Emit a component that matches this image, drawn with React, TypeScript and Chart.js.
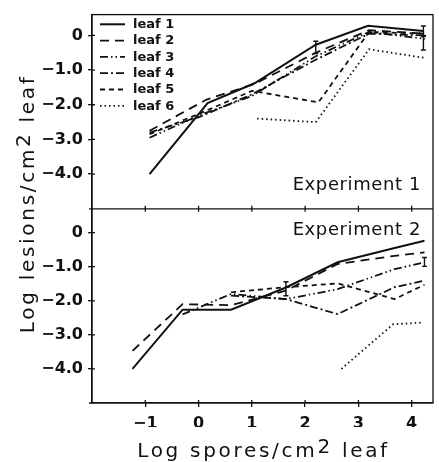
import React, { useEffect, useRef } from 'react';
import { Chart, registerables } from 'chart.js';

Chart.register(...registerables);

const W = 439;
const H = 462;
const INK = '#111111';
const FONT = '"DejaVu Sans", "Noto Sans", sans-serif';

// ---------- data ----------
const leafLabels = ['leaf 1', 'leaf 2', 'leaf 3', 'leaf 4', 'leaf 5', 'leaf 6'];
const xTickValues = [-1, 0, 1, 2, 3, 4];
const yTickValues = [0, -1, -2, -3, -4];

// Experiment 1
const e1Leaf1X = [-0.92, 0.17, 1.05, 2.2, 3.18, 4.22];
const e1Leaf1Y = [-4.0, -1.95, -1.38, -0.27, 0.28, 0.13];
const e1Leaf2X = [-0.92, 0.15, 1.05, 2.2, 3.2, 4.25];
const e1Leaf2Y = [-2.75, -1.85, -1.4, -0.5, 0.15, 0.05];
const e1Leaf3X = [-0.92, 0.02, 1.0, 2.2, 3.2, 4.25];
const e1Leaf3Y = [-2.95, -2.3, -1.75, -0.6, 0.1, -0.1];
const e1Leaf4X = [-0.92, 0.02, 1.0, 2.2, 3.2, 4.25];
const e1Leaf4Y = [-2.8, -2.35, -1.7, -0.7, 0.05, 0.0];
const e1Leaf5X = [-0.92, 0.1, 1.0, 2.25, 3.2, 4.25];
const e1Leaf5Y = [-2.85, -2.2, -1.6, -1.93, 0.1, 0.05];
const e1Leaf6X = [1.1, 2.2, 3.2, 4.25];
const e1Leaf6Y = [-2.4, -2.5, -0.4, -0.65];

// Experiment 2
const e2Leaf1X = [-1.24, -0.3, 0.61, 1.64, 2.61, 3.68, 4.24];
const e2Leaf1Y = [-4.0, -2.26, -2.26, -1.61, -0.87, -0.45, -0.24];
const e2Leaf2X = [-1.24, -0.3, 0.61, 1.64, 2.61, 3.68, 4.24];
const e2Leaf2Y = [-3.47, -2.1, -2.13, -1.7, -0.92, -0.68, -0.58];
const e2Leaf3X = [-0.3, 0.61, 1.64, 2.61, 3.68, 4.24];
const e2Leaf3Y = [-2.4, -1.8, -1.95, -1.66, -1.07, -0.87];
const e2Leaf4X = [0.61, 1.64, 2.61, 3.68, 4.24];
const e2Leaf4Y = [-1.85, -1.95, -2.39, -1.6, -1.41];
const e2Leaf5X = [0.61, 1.64, 2.61, 3.68, 4.24];
const e2Leaf5Y = [-1.75, -1.6, -1.49, -1.95, -1.53];
const e2Leaf6X = [2.68, 3.65, 4.21];
const e2Leaf6Y = [-4.0, -2.69, -2.64];

// Error bars: x, low, high
const e1ErrX = [2.2, 4.22, 4.22];
const e1ErrLo = [-0.52, -0.03, -0.42];
const e1ErrHi = [-0.17, 0.27, 0.0];
const e2ErrX = [1.64, 4.24];
const e2ErrLo = [-1.85, -0.99];
const e2ErrHi = [-1.44, -0.73];

// ---------- styles ----------
const leafDash: number[][] = [[], [9, 6], [8, 3, 1.5, 3, 1.5, 3], [8, 3, 2, 3], [5, 4], [1.5, 3]];
const leafWidth = [2, 1.8, 1.8, 1.8, 1.8, 1.8];

const toPts = (xs: number[], ys: number[]) => xs.map((x, i) => ({ x, y: ys[i] }));

const exp1 = [
  toPts(e1Leaf1X, e1Leaf1Y),
  toPts(e1Leaf2X, e1Leaf2Y),
  toPts(e1Leaf3X, e1Leaf3Y),
  toPts(e1Leaf4X, e1Leaf4Y),
  toPts(e1Leaf5X, e1Leaf5Y),
  toPts(e1Leaf6X, e1Leaf6Y),
];
const exp2 = [
  toPts(e2Leaf1X, e2Leaf1Y),
  toPts(e2Leaf2X, e2Leaf2Y),
  toPts(e2Leaf3X, e2Leaf3Y),
  toPts(e2Leaf4X, e2Leaf4Y),
  toPts(e2Leaf5X, e2Leaf5Y),
  toPts(e2Leaf6X, e2Leaf6Y),
];

const fmtX = (v: number) => (v < 0 ? '\u2212' + Math.abs(v) : String(v));
const fmtY = (v: number) => (v === 0 ? '0' : (v < 0 ? '\u2212' : '') + Math.abs(v).toFixed(1));

type Piece = { text: string; dy: number };

function drawPieces(ctx: CanvasRenderingContext2D, pieces: Piece[], cx: number, by: number) {
  const widths = pieces.map((p) => ctx.measureText(p.text).width);
  const total = widths.reduce((a, b) => a + b, 0);
  let x = cx - total / 2;
  ctx.textAlign = 'left';
  ctx.textBaseline = 'alphabetic';
  pieces.forEach((p, i) => {
    ctx.fillText(p.text, x, by + p.dy);
    x += widths[i];
  });
}

const framePlugin = {
  id: 'paperFrame',
  afterDatasetsDraw(chart: any) {
    const { ctx, chartArea: a, scales } = chart;
    const xs = scales.x;
    const yT = scales.yTop;
    const yB = scales.yBot;
    const mid = yT.bottom;
    ctx.save();
    ctx.strokeStyle = INK;
    ctx.fillStyle = INK;
    ctx.lineWidth = 1.3;
    ctx.setLineDash([]);
    ctx.strokeRect(a.left, a.top, a.right - a.left, a.bottom - a.top);
    ctx.beginPath();
    ctx.moveTo(a.left - 3, mid);
    ctx.lineTo(a.right, mid);
    ctx.moveTo(a.left - 3, a.bottom);
    ctx.lineTo(a.left, a.bottom);
    // inner tick stubs
    for (const t of xs.ticks) {
      const px = xs.getPixelForValue(t.value);
      ctx.moveTo(px, a.bottom);
      ctx.lineTo(px, a.bottom - 3);
      ctx.moveTo(px, mid - 3);
      ctx.lineTo(px, mid + 3);
    }
    for (const s of [yT, yB]) {
      for (const t of s.ticks) {
        const py = s.getPixelForValue(t.value);
        ctx.moveTo(a.left, py);
        ctx.lineTo(a.left + 3, py);
      }
    }
    ctx.stroke();

    // error bars
    ctx.lineWidth = 1.4;
    ctx.beginPath();
    const bars = (xv: number[], lo: number[], hi: number[], ys: any) => {
      xv.forEach((x, i) => {
        const px = xs.getPixelForValue(x);
        const p1 = ys.getPixelForValue(lo[i]);
        const p2 = ys.getPixelForValue(hi[i]);
        ctx.moveTo(px, p1);
        ctx.lineTo(px, p2);
        ctx.moveTo(px - 2.5, p1);
        ctx.lineTo(px + 2.5, p1);
        ctx.moveTo(px - 2.5, p2);
        ctx.lineTo(px + 2.5, p2);
      });
    };
    bars(e1ErrX, e1ErrLo, e1ErrHi, yT);
    bars(e2ErrX, e2ErrLo, e2ErrHi, yB);
    ctx.stroke();

    // legend
    ctx.font = `bold 13px ${FONT}`;
    ctx.textAlign = 'left';
    ctx.textBaseline = 'middle';
    leafLabels.forEach((lab, i) => {
      const ly = a.top + 9.7 + i * 16.3;
      ctx.beginPath();
      ctx.lineWidth = leafWidth[i];
      ctx.setLineDash(leafDash[i]);
      ctx.moveTo(a.left + 8, ly);
      ctx.lineTo(a.left + 33, ly);
      ctx.stroke();
      ctx.setLineDash([]);
      ctx.fillText(lab, a.left + 41, ly + 0.5);
    });

    // panel labels
    ctx.font = `18px ${FONT}`;
    (ctx as any).letterSpacing = '0.6px';
    ctx.textAlign = 'right';
    ctx.textBaseline = 'alphabetic';
    ctx.fillText('Experiment 1', a.right - 12, yT.bottom - 19);
    ctx.fillText('Experiment 2', a.right - 12, yB.top + 26);

    // axis titles
    ctx.font = `20px ${FONT}`;
    (ctx as any).letterSpacing = '2.7px';
    drawPieces(
      ctx,
      [
        { text: 'Log spores/cm', dy: 0 },
        { text: '2', dy: -4 },
        { text: ' leaf', dy: 0 },
      ],
      (a.left + a.right) / 2 + 1,
      456.5
    );
    ctx.translate(34, (a.top + a.bottom) / 2 - 5);
    ctx.rotate(-Math.PI / 2);
    drawPieces(
      ctx,
      [
        { text: 'Log lesions/cm', dy: 0 },
        { text: '2', dy: -4 },
        { text: ' leaf', dy: 0 },
      ],
      0,
      0
    );
    ctx.restore();
  },
};

const yScale = (max: number, weight: number) => ({
  type: 'linear',
  position: 'left',
  stack: 'panels',
  stackWeight: weight,
  min: -5,
  max,
  afterBuildTicks: (s: any) => {
    s.ticks = yTickValues.map((v) => ({ value: v }));
  },
  afterFit: (s: any) => {
    s.width = 92;
  },
  ticks: {
    padding: 5,
    color: INK,
    font: { family: FONT, size: 16, weight: 'bold' },
    callback: (v: any) => fmtY(Number(v)),
  },
  grid: { drawOnChartArea: false, drawTicks: true, tickLength: 4, color: INK, lineWidth: 1.3 },
  border: { display: true, color: INK, width: 1.3 },
});

export default function App() {
  const ref = useRef<HTMLCanvasElement | null>(null);
  useEffect(() => {
    if (!ref.current) return;
    const datasets: any[] = [];
    exp1.forEach((pts, i) =>
      datasets.push({
        label: leafLabels[i] + ' (Experiment 1)',
        data: pts,
        yAxisID: 'yTop',
        borderColor: INK,
        borderWidth: leafWidth[i],
        borderDash: leafDash[i],
        pointRadius: 0,
        fill: false,
        tension: 0,
      })
    );
    exp2.forEach((pts, i) =>
      datasets.push({
        label: leafLabels[i] + ' (Experiment 2)',
        data: pts,
        yAxisID: 'yBot',
        borderColor: INK,
        borderWidth: leafWidth[i],
        borderDash: leafDash[i],
        pointRadius: 0,
        fill: false,
        tension: 0,
      })
    );
    const chart = new Chart(ref.current, {
      type: 'line',
      data: { datasets },
      options: {
        responsive: false,
        animation: false,
        layout: { padding: { left: 0, right: 6, top: 13, bottom: 35 } },
        plugins: { legend: { display: false }, tooltip: { enabled: false } },
        scales: {
          x: {
            type: 'linear',
            position: 'bottom',
            min: -2,
            max: 4.4,
            afterBuildTicks: (s: any) => {
              s.ticks = xTickValues.map((v) => ({ value: v }));
            },
            afterFit: (s: any) => {
              s.height = 24;
            },
            ticks: {
              padding: 7,
              color: INK,
              maxRotation: 0,
              autoSkip: false,
              font: { family: FONT, size: 16, weight: 'bold' },
              callback: (v: any) => fmtX(Number(v)),
            },
            grid: { drawOnChartArea: false, drawTicks: true, tickLength: 4, color: INK, lineWidth: 1.3 },
            border: { display: true, color: INK, width: 1.3 },
          },
          yBot: yScale(0.7, 1),
          yTop: yScale(0.6, 1),
        } as any,
      },
      plugins: [framePlugin],
    } as any);
    return () => chart.destroy();
  }, []);
  return (
    <div style={{ position: 'absolute', left: 0, top: 0, width: W, height: H, background: '#fff' }}>
      <canvas ref={ref} width={W} height={H} style={{ display: 'block' }} />
    </div>
  );
}
